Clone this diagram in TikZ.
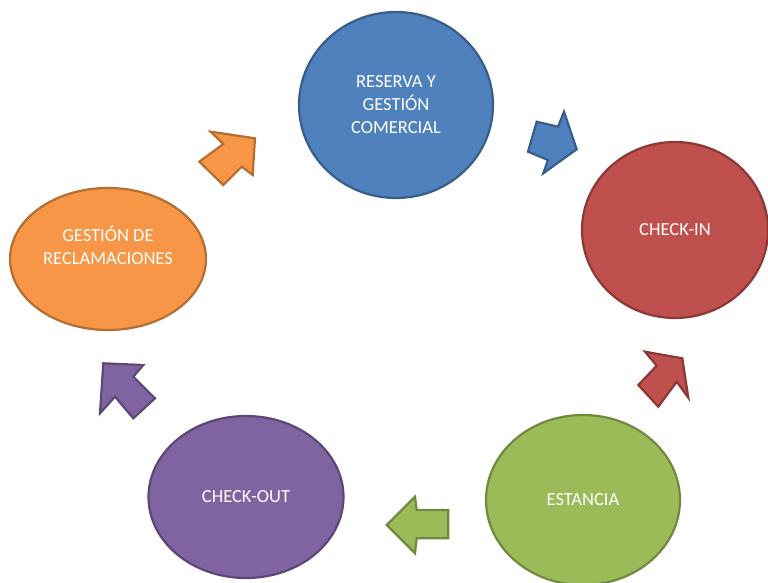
\documentclass[tikz,border=0pt]{standalone}
\usepackage{fontspec}
\setmainfont{Carlito}
\usetikzlibrary{shapes.geometric}
\definecolor{bluef}{HTML}{4F81BD}\definecolor{blued}{HTML}{385D8A}
\definecolor{redf}{HTML}{C0504D}\definecolor{redd}{HTML}{8C3836}
\definecolor{greenf}{HTML}{9BBB59}\definecolor{greend}{HTML}{71893F}
\definecolor{purplef}{HTML}{8064A2}\definecolor{purpled}{HTML}{5C4776}
\definecolor{orangef}{HTML}{F79646}\definecolor{oranged}{HTML}{B66D31}
\tikzset{
  stage/.style={ellipse, line width=2.2pt, text=white, align=center, inner sep=0pt,
    font=\fontsize{18.5}{23}\selectfont},
  blockarrow/.style={line width=2.2pt, line join=miter}
}
\begin{document}
\begin{tikzpicture}[x=1pt,y=-1pt]
\useasboundingbox (0,0) rectangle (768,583);
\node[stage, fill=bluef, draw=blued, minimum width=194pt, minimum height=186pt, text depth=0.5pt] (res) at (396,105) {RESERVA Y\\GESTIÓN\\COMERCIAL};
\node[stage, fill=redf, draw=redd, minimum width=186pt, minimum height=176pt] (chin) at (675,230) {CHECK-IN};
\node[stage, fill=greenf, draw=greend, minimum width=194pt, minimum height=170pt] (est) at (583,500) {ESTANCIA};
\node[stage, fill=purplef, draw=purpled, minimum width=195pt, minimum height=162pt] (chout) at (246,497) {CHECK-OUT};
\node[stage, fill=orangef, draw=oranged, minimum width=196pt, minimum height=142pt, text depth=28pt] (recl) at (108,259) {GESTIÓN DE\\RECLAMACIONES};
% block arrows
\draw[blockarrow, fill=bluef, draw=blued] (536.7,121.7) -- (558,126.7) -- (564,111.7) -- (576.7,149.3) -- (543.3,173.3) -- (548,160) -- (528,151.7) -- cycle;
\draw[blockarrow, fill=redf, draw=redd] (645,351.7) -- (682.3,358.3) -- (688.3,397.7) -- (676.7,381.7) -- (658.3,406.7) -- (638.3,385) -- (656.7,365.7) -- cycle;
\draw[blockarrow, fill=greenf, draw=greend] (386.7,525) -- (415,496.7) -- (416.7,510) -- (448.3,510) -- (448.3,538.3) -- (416.7,538.3) -- (415,553.3) -- cycle;
\draw[blockarrow, fill=purplef, draw=purpled] (103.3,363.3) -- (143.3,365) -- (133.3,376.7) -- (155,398.3) -- (133.3,418.3) -- (115,396.7) -- (100,413.3) -- cycle;
\draw[blockarrow, fill=orangef, draw=oranged] (255,138.3) -- (252.7,175) -- (241.7,166.7) -- (223.3,185) -- (199.3,161.7) -- (223.3,144) -- (210.7,131.7) -- cycle;
\end{tikzpicture}
\end{document}
